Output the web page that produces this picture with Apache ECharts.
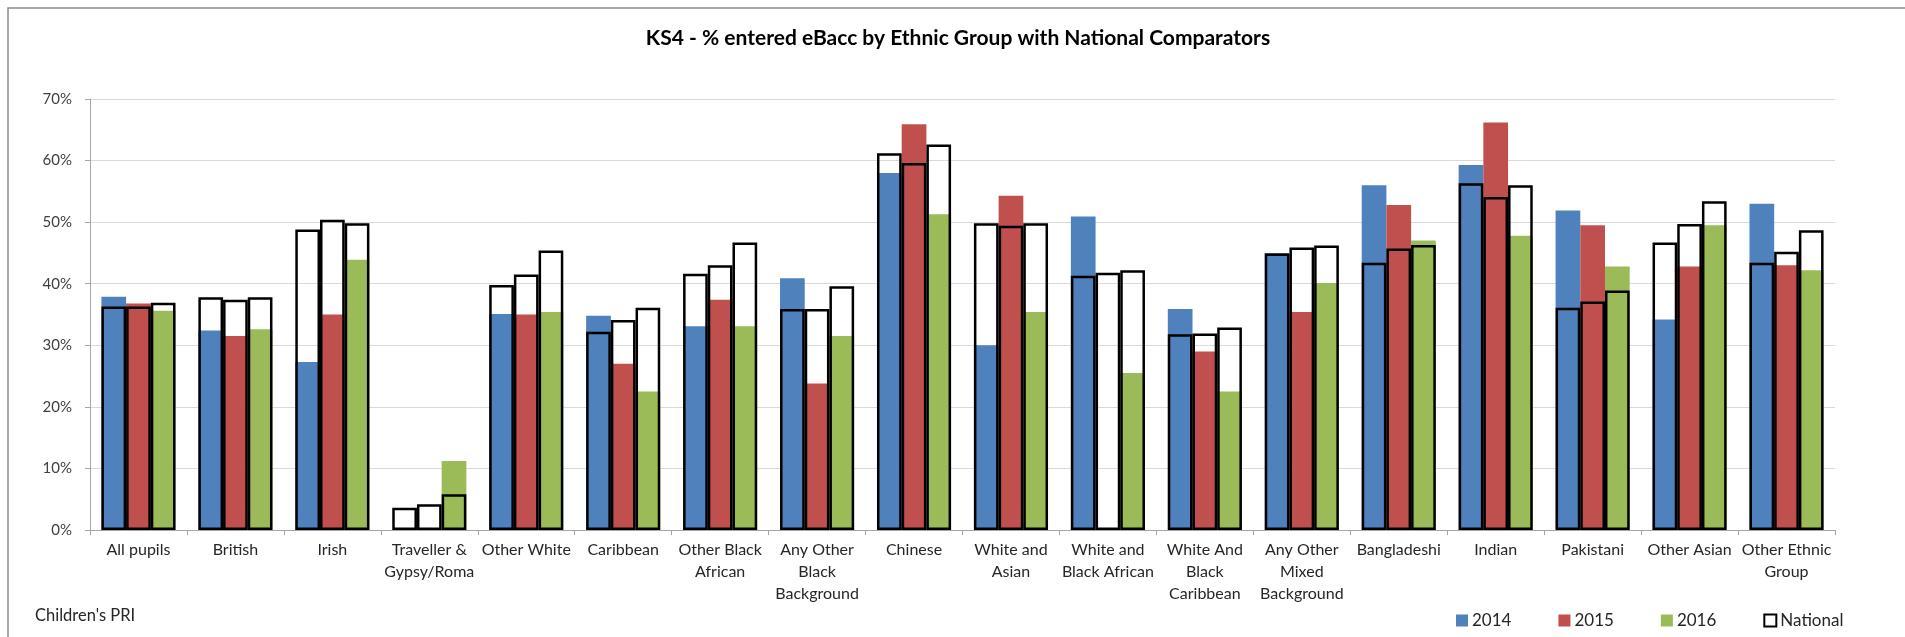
<!DOCTYPE html>
<html>
<head>
<meta charset="utf-8">
<title>KS4 - % entered eBacc by Ethnic Group with National Comparators</title>
<script src="https://cdn.jsdelivr.net/npm/echarts@6/dist/echarts.min.js"></script>
<style>
  html, body { margin: 0; padding: 0; background: #fff; }
  #chart { width: 1905px; height: 637px; }
</style>
</head>
<body>
<div id="chart"></div>
<script>
// Ethnic groups (axis labels, wrapped as printed)
const categories = [
  'All pupils', 'British', 'Irish', 'Traveller &\nGypsy/Roma', 'Other White',
  'Caribbean', 'Other Black\nAfrican', 'Any Other\nBlack\nBackground', 'Chinese',
  'White and\nAsian', 'White and\nBlack African', 'White And\nBlack\nCaribbean',
  'Any Other\nMixed\nBackground', 'Bangladeshi', 'Indian', 'Pakistani',
  'Other Asian', 'Other Ethnic\nGroup'
];

// Local % entered eBacc by year
const local2014 = [37.9, 32.4, 27.3, 0, 35.1, 34.8, 33.1, 40.9, 58.0, 30.0, 50.9, 35.9, 45.0, 56.0, 59.3, 51.9, 34.2, 53.0];
const local2015 = [36.8, 31.5, 35.0, 0, 35.0, 27.0, 37.4, 23.8, 65.9, 54.3, 0, 29.0, 35.4, 52.8, 66.2, 49.5, 42.8, 43.0];
const local2016 = [35.6, 32.6, 43.9, 11.2, 35.4, 22.5, 33.1, 31.5, 51.3, 35.4, 25.5, 22.5, 40.1, 47.0, 47.8, 42.8, 49.5, 42.2];

// National comparators by year
const national2014 = [36.3, 37.8, 48.8, 3.6, 39.8, 32.2, 41.6, 35.9, 61.2, 49.8, 41.3, 31.8, 44.9, 43.4, 56.3, 36.1, 46.7, 43.4];
const national2015 = [36.3, 37.4, 50.4, 4.2, 41.5, 34.1, 43.0, 35.9, 59.6, 49.4, 41.8, 31.9, 45.9, 45.7, 54.1, 37.1, 49.7, 45.2];
const national2016 = [36.9, 37.8, 49.8, 5.8, 45.4, 36.1, 46.7, 39.6, 62.6, 49.8, 42.2, 32.9, 46.2, 46.3, 56.0, 38.9, 53.4, 48.7];

const yTicks = [0, 10, 20, 30, 40, 50, 60, 70];

const FONT = 'Lato, "Open Sans", sans-serif';
const BAR_W = 24.7;

const chart = echarts.init(document.getElementById('chart'), null, { renderer: 'canvas' });

function yearSeries(name, data, color) {
  return {
    name: name, type: 'bar', xAxisIndex: 0, data: data,
    barWidth: BAR_W, barGap: '0%',
    itemStyle: { color: color },
    emphasis: { disabled: true }, z: 2
  };
}
function nationalSeries(data) {
  return {
    name: 'National', type: 'bar', xAxisIndex: 1, data: data,
    barWidth: BAR_W, barGap: '0%',
    itemStyle: { color: 'rgba(0,0,0,0)', borderColor: '#000', borderWidth: 2.5 },
    emphasis: { disabled: true }, z: 3
  };
}

chart.setOption({
  animation: false,
  backgroundColor: '#fff',
  textStyle: { fontFamily: FONT },
  graphic: [
    { type: 'rect', shape: { x: 8, y: 8, width: 2000, height: 700 },
      style: { fill: 'none', stroke: '#8c8c8c', lineWidth: 1.5 }, silent: true, z: -1 },
    { type: 'text', x: 958, y: 38,
      style: { text: 'KS4 - % entered eBacc by Ethnic Group with National Comparators',
        font: 'bold 21px ' + FONT, fill: '#000', textAlign: 'center', textVerticalAlign: 'middle' } },
    { type: 'text', x: 35, y: 616,
      style: { text: "Children's PRI", font: '16.5px ' + FONT, fill: '#262626', textVerticalAlign: 'middle' } }
  ],
  legend: {
    left: 1451, top: 607,
    itemWidth: 12, itemHeight: 12, itemGap: 47,
    textStyle: { fontSize: 17, color: '#262626', fontFamily: FONT, padding: [0, 0, 0, -1] },
    data: [
      { name: '2014', icon: 'rect' },
      { name: '2015', icon: 'rect' },
      { name: '2016', icon: 'rect' },
      { name: 'National', icon: 'rect', itemStyle: { color: '#fff', borderColor: '#000', borderWidth: 2 } }
    ],
    selectedMode: false
  },
  grid: { left: 90, right: 70, top: 99, bottom: 107, containLabel: false },
  xAxis: [
    {
      type: 'category', data: categories,
      axisLine: { lineStyle: { color: '#a6a6a6', width: 1 } },
      axisTick: { show: true, alignWithLabel: false, length: 5, lineStyle: { color: '#a6a6a6' } },
      axisLabel: { interval: 0, fontSize: 16, lineHeight: 22, margin: 9, color: '#262626', fontFamily: FONT }
    },
    {
      type: 'category', data: categories, show: false, position: 'bottom'
    }
  ],
  yAxis: {
    type: 'value', min: 0, max: 70, interval: 10,
    axisLine: { show: true, lineStyle: { color: '#a6a6a6', width: 1 } },
    axisTick: { show: true, length: 5, lineStyle: { color: '#a6a6a6' } },
    axisLabel: {
      fontSize: 15, margin: 18, color: '#404040', fontFamily: FONT,
      formatter: function (v) { return yTicks.indexOf(v) >= 0 ? v + '%' : ''; }
    },
    splitLine: { lineStyle: { color: '#d9d9d9', width: 1 } }
  },
  series: [
    yearSeries('2014', local2014, '#4f81bd'),
    yearSeries('2015', local2015, '#c0504d'),
    yearSeries('2016', local2016, '#9bbb59'),
    nationalSeries(national2014),
    nationalSeries(national2015),
    nationalSeries(national2016)
  ]
});
</script>
</body>
</html>
